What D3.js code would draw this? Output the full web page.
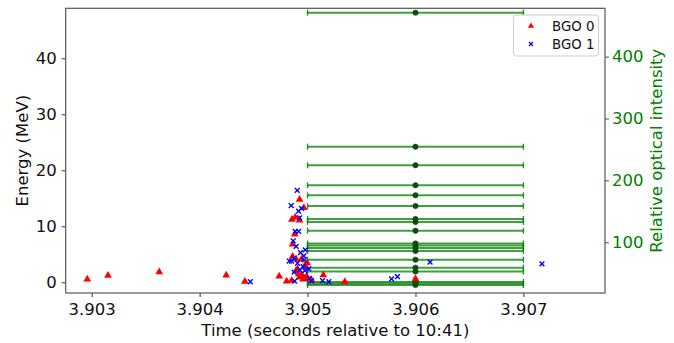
<!DOCTYPE html>
<html>
<head>
<meta charset="utf-8">
<script src="https://cdn.jsdelivr.net/npm/d3@7"></script>
<style>
  html, body { margin: 0; padding: 0; background: #fff; }
  svg { display: block; font-family: "DejaVu Sans", sans-serif; }
</style>
</head>
<body>
<svg id="chart" width="674" height="343"></svg>
<script>
// ---- Data ----
const bgo0Time = [3.902959, 3.903151, 3.903626, 3.904246, 3.904419, 3.904737, 3.904806, 3.904852,
  3.904926, 3.904966, 3.904855, 3.904885, 3.904926, 3.904882, 3.904861, 3.904861, 3.904894,
  3.904944, 3.904996, 3.904907, 3.904919, 3.904947, 3.904991, 3.904959, 3.904975, 3.905037,
  3.905146, 3.905345, 3.906000, 3.904972, 3.904890, 3.904925];
const bgo0Energy = [0.55, 1.2, 1.85, 1.25, 0.15, 1.1, 0.2, 0.3,
  14.8, 13.3, 11.2, 11.6, 11.1, 8.6, 6.8, 4.6, 4.1,
  4.1, 3.45, 2.4, 1.5, 1.3, 1.1, 0.55, 0.7, 0.4,
  1.3, 0.1, 0.65, 2.9, 2.0, 0.9];

const bgo1Time = [3.904469, 3.904904, 3.904848, 3.904917, 3.904944, 3.904926, 3.904885, 3.904917,
  3.904867, 3.904894, 3.904935, 3.904978, 3.904966, 3.904830, 3.904852, 3.904876, 3.904907,
  3.904969, 3.904959, 3.904876, 3.904929, 3.904975, 3.905012, 3.904880, 3.905015, 3.905037,
  3.905139, 3.905197, 3.905778, 3.905833, 3.906135, 3.907172];
const bgo1Energy = [0.1, 16.4, 13.7, 12.7, 13.2, 11.5, 9.1, 9.1,
  7.4, 6.4, 5.3, 5.8, 4.7, 3.8, 3.8, 4.3, 3.4,
  4.0, 2.8, 1.8, 2.2, 2.1, 2.4, 0.2, 0.7, 0.25,
  0.3, 0.1, 0.6, 1.0, 3.6, 3.3];

const opticalTime = 3.906;
const opticalTimeErr = 0.001;
const opticalIntensity = [471, 254.4, 224.4, 192.1, 175.9, 158.6, 137.6, 132.8, 118.7,
  98.1, 94.8, 90.8, 85.9, 71.9, 59.0, 52.8, 35.9, 33.4, 31.0];

const xTicks = [3.903, 3.904, 3.905, 3.906, 3.907];
const energyTicks = [0, 10, 20, 30, 40];
const intensityTicks = [100, 200, 300, 400];
const legendLabels = ["BGO 0", "BGO 1"];

// ---- Layout ----
const svg = d3.select("#chart");
const L = 65.7, R = 605, T = 8.3, B = 293;
const green = "#008000";

const x = d3.scaleLinear().domain([3.902759, 3.907756]).range([L, R]);
const yE = d3.scaleLinear().domain([-1.91, 48.93]).range([B, T]);
const yI = d3.scaleLinear().domain([18.1, 478]).range([B, T]);

// ---- Optical intensity error bars ----
const eb = svg.append("g");
opticalIntensity.forEach(v => {
  const y = yI(v);
  eb.append("line").attr("x1", x(opticalTime - opticalTimeErr)).attr("x2", x(opticalTime + opticalTimeErr))
    .attr("y1", y).attr("y2", y).attr("stroke", green).attr("stroke-width", 2).attr("stroke-opacity", 0.75);
  [opticalTime - opticalTimeErr, opticalTime + opticalTimeErr].forEach(t => {
    eb.append("line").attr("x1", x(t)).attr("x2", x(t)).attr("y1", y - 3).attr("y2", y + 3)
      .attr("stroke", green).attr("stroke-width", 1.4).attr("stroke-opacity", 0.85);
  });
});

// ---- Scatter BGO 0 (red triangles) ----
const tri = d3.symbol().type(d3.symbolTriangle).size(26);
svg.append("g").selectAll("path").data(d3.range(bgo0Time.length)).join("path")
  .attr("d", tri)
  .attr("transform", i => `translate(${x(bgo0Time[i])},${yE(bgo0Energy[i])})`)
  .attr("fill", "red");

// ---- Scatter BGO 1 (blue x) ----
const xs = 2.4;
const g1 = svg.append("g");
d3.range(bgo1Time.length).forEach(i => {
  const cx = x(bgo1Time[i]), cy = yE(bgo1Energy[i]);
  g1.append("path").attr("d", `M${cx - xs},${cy - xs}L${cx + xs},${cy + xs}M${cx - xs},${cy + xs}L${cx + xs},${cy - xs}`)
    .attr("stroke", "blue").attr("stroke-width", 1.4).attr("fill", "none");
});

// error bar center dots on top
opticalIntensity.forEach(v => {
  eb.append("circle").attr("cx", x(opticalTime)).attr("cy", yI(v)).attr("r", 2.7)
    .attr("fill", "#0d4d0d").attr("stroke", "#0d4d0d").attr("stroke-width", 0.5);
});

// ---- Axes ----
const fmt3 = d3.format(".3f");
const gx = svg.append("g").attr("transform", `translate(0,${B})`)
  .call(d3.axisBottom(x).tickValues(xTicks).tickFormat(fmt3).tickSize(4).tickPadding(6));
const gyl = svg.append("g").attr("transform", `translate(${L},0)`)
  .call(d3.axisLeft(yE).tickValues(energyTicks).tickSize(4).tickPadding(5));
const gyr = svg.append("g").attr("transform", `translate(${R},0)`)
  .call(d3.axisRight(yI).tickValues(intensityTicks).tickSize(4).tickPadding(3));

[gx, gyl, gyr].forEach(g => {
  g.select(".domain").remove();
  g.selectAll("text").attr("font-size", 16.5).attr("font-family", "DejaVu Sans");
});
gx.selectAll("line").attr("stroke", "#333");
gyl.selectAll("line").attr("stroke", "#333");
gyl.selectAll("text").attr("fill", "#111");
gx.selectAll("text").attr("fill", "#111");
gyr.selectAll("line").attr("stroke", green);
gyr.selectAll("text").attr("fill", green);

// frame
svg.append("rect").attr("x", L).attr("y", T).attr("width", R - L).attr("height", B - T)
  .attr("fill", "none").attr("stroke", "#555").attr("stroke-width", 1.2);

// axis titles
svg.append("text").attr("x", (L + R) / 2).attr("y", 336).attr("text-anchor", "middle")
  .attr("font-size", 16.5).attr("fill", "#111").text("Time (seconds relative to 10:41)");
svg.append("text").attr("transform", `translate(28,${(T + B) / 2}) rotate(-90)`)
  .attr("text-anchor", "middle").attr("font-size", 16.5).attr("fill", "#111").text("Energy (MeV)");
svg.append("text").attr("transform", `translate(662,${(T + B) / 2}) rotate(-90)`)
  .attr("text-anchor", "middle").attr("font-size", 16.5).attr("fill", green).text("Relative optical intensity");

// ---- Legend ----
const lg = svg.append("g");
lg.append("rect").attr("x", 513.5).attr("y", 15).attr("width", 85).attr("height", 41).attr("rx", 3)
  .attr("fill", "white").attr("fill-opacity", 0.85).attr("stroke", "#ccc").attr("stroke-width", 1);
lg.append("path").attr("d", d3.symbol().type(d3.symbolTriangle).size(16))
  .attr("transform", "translate(531,26)").attr("fill", "red");
{
  const cx = 531, cy = 44, s = 2;
  lg.append("path").attr("d", `M${cx - s},${cy - s}L${cx + s},${cy + s}M${cx - s},${cy + s}L${cx + s},${cy - s}`)
    .attr("stroke", "blue").attr("stroke-width", 1.2);
}
legendLabels.forEach((t, i) => {
  lg.append("text").attr("x", 552).attr("y", 26 + i * 18.3).attr("dy", "0.35em")
    .attr("font-size", 13.3).attr("fill", "#111").text(t);
});
</script>
</body>
</html>
